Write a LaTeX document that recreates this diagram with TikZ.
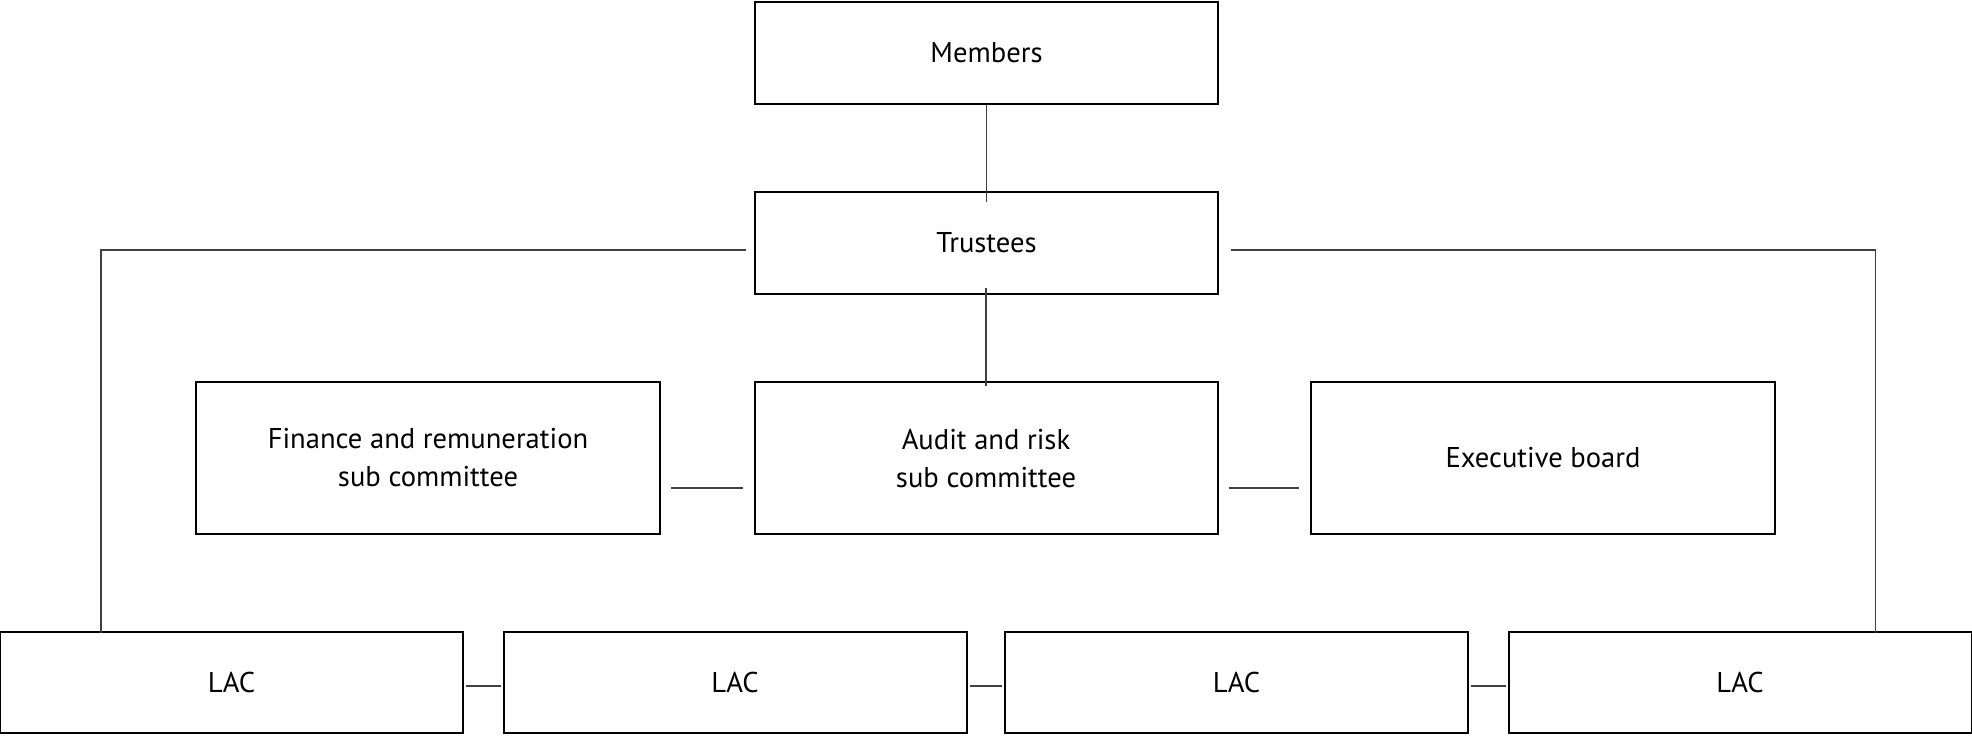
\documentclass[tikz,border=0pt]{standalone}
\usepackage{fontspec}
\setmainfont{PT Sans}
\usepackage{tikz}
\usetikzlibrary{positioning}
\tikzset{box/.style = {shape=rectangle,draw,line width=1pt,minimum width=231.5pt,
                       align=center,font=\fontsize{14.3}{19}\selectfont}}
\tikzset{link/.style = {draw=black!75,line width=0.6pt}}

\begin{document}
\begin{tikzpicture}[x=0.5pt,y=-0.5pt]
                    \useasboundingbox (0,0) rectangle (1972,735);

                    \node[box, minimum height=51pt] (members) at (986.5,53) {Members};
                    \node[box, minimum height=51pt] (trustees) at (986.5,243) {Trustees};

                    \node[box, minimum height=76pt, minimum width=232pt] (finance) at (428,458)
                      {Finance and remuneration\\sub committee};
                    \node[box, minimum height=76pt, minimum width=231.5pt] (audit) at (986,458)
                      {Audit and risk\\sub committee};
                    \node[box, minimum height=76pt, minimum width=232pt] (exec) at (1543,458)
                      {Executive board};

                    \foreach \i/\x in {1/231.5,2/735,3/1236.5,4/1740} {
                      \node[box, minimum height=50.5pt] (lac\i) at (\x,682.5) {LAC};
                    }

                    \draw[link] (members.south) -- ([yshift=-5.5pt]trustees.north);
                    \draw[link] ([xshift=-0.25pt,yshift=3.5pt]trustees.south) -- ([yshift=-2.5pt]audit.north);

                    \draw[link] ([xshift=-4pt,yshift=-3.5pt]trustees.west)
                      -| ([xshift=-65.25pt,yshift=-1pt]lac1.north);
                    \draw[link] ([xshift=6pt,yshift=-3.5pt]trustees.east)
                      -| ([xshift=67.75pt,yshift=-1pt]lac4.north);

                    \draw[link] ([xshift=5pt,yshift=-15pt]finance.east) -- ([xshift=-5.5pt,yshift=-15pt]audit.west);
                    \draw[link] ([xshift=5pt,yshift=-15pt]audit.east) -- ([xshift=-5.5pt,yshift=-15pt]exec.west);

                    \foreach \i/\j in {1/2,2/3,3/4} {
                      \draw[link] ([xshift=1pt,yshift=-1.75pt]lac\i.east) -- ([xshift=-1pt,yshift=-1.75pt]lac\j.west);
                    }
                  \end{tikzpicture}
\end{document}
